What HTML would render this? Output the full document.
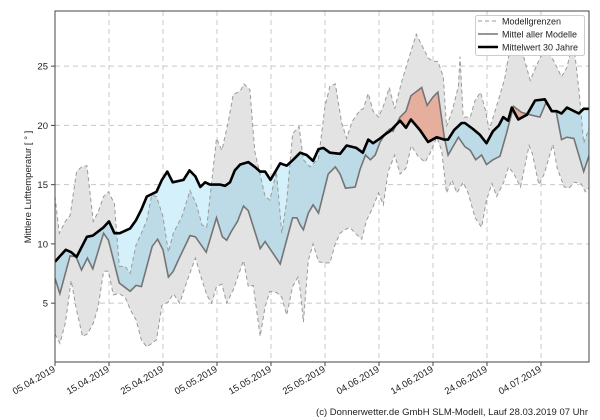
<!DOCTYPE html>
<html><head><meta charset="utf-8"><style>
html,body{margin:0;padding:0;background:#fff;}
svg{display:block;font-family:"Liberation Sans","DejaVu Sans",sans-serif;}
</style></head><body>
<svg id="s" width="600" height="420" viewBox="0 0 600 420" xmlns="http://www.w3.org/2000/svg">
<rect width="600" height="420" fill="#fff"/>
<defs>
<clipPath id="pa"><rect x="55" y="11" width="534" height="351"/></clipPath>
<clipPath id="below"><path id="cb" d=""/></clipPath>
<clipPath id="above"><path id="ca" d=""/></clipPath>
<clipPath id="bandc"><path id="cband" d=""/></clipPath>
</defs>
<g id="grid"></g>
<g clip-path="url(#pa)">
<g clip-path="url(#below)"><path id="fb0" fill="#d4f0fb"/></g>
<path id="band" fill="#e3e3e3" stroke="none"/>
<g clip-path="url(#bandc)"><g clip-path="url(#below)"><path id="fb" fill="#bcdbe6"/></g></g>
<g clip-path="url(#above)"><path id="fr" fill="#e6ae9c"/></g>
<path id="up" fill="none" stroke="#9a9a9a" stroke-width="1" stroke-dasharray="4,3"/>
<path id="lo" fill="none" stroke="#9a9a9a" stroke-width="1" stroke-dasharray="4,3"/>
<path id="mn" fill="none" stroke="#757575" stroke-width="1.6"/>
<path id="bl" fill="none" stroke="#000" stroke-width="2.6" stroke-linejoin="round"/>
</g>
<rect x="55" y="11" width="534" height="351" fill="none" stroke="#444" stroke-width="1"/>
<g id="ticks" font-size="9.5" fill="#222"></g>
<text transform="translate(31,187) rotate(-90)" text-anchor="middle" font-size="9.5" fill="#222">Mittlere Lufttemperatur [ ° ]</text>
<g>
<rect x="475.5" y="15.5" width="109" height="40" fill="#fff" fill-opacity="0.85" stroke="#ccc" rx="2"/>
<line x1="478" y1="21" x2="498" y2="21" stroke="#9a9a9a" stroke-dasharray="4,3"/>
<line x1="478" y1="34" x2="498" y2="34" stroke="#757575" stroke-width="1.6"/>
<line x1="478" y1="47" x2="498" y2="47" stroke="#000" stroke-width="2.6"/>
<text x="502" y="24.5" font-size="9" fill="#222">Modellgrenzen</text>
<text x="502" y="37.5" font-size="9" fill="#222">Mittel aller Modelle</text>
<text x="502" y="50.5" font-size="9" fill="#222">Mittelwert 30 Jahre</text>
</g>
<text x="588" y="415" text-anchor="end" font-size="9.5" fill="#222">(c) Donnerwetter.de GmbH SLM-Modell, Lauf 28.03.2019 07 Uhr</text>
</svg>
<script>
var X=function(d){return 55+d*5.4;},Y=function(t){return 362.4-t*11.85;};
function P(s){var a=s.trim().split(/\s+/).map(Number),r=[];for(var i=0;i<a.length;i+=2)r.push([a[i],a[i+1]]);return r;}
var BL=P("0 8.5 0.8 8.9 2 9.5 3 9.3 4 8.9 5.9 10.6 7 10.7 9 11.4 10 11.9 11 10.9 12 10.9 13.9 11.3 15 12 16 12.9 17 14.0 18.8 14.4 19.8 15.4 20.8 16.1 21.8 15.2 23.8 15.4 24.9 16.2 26 15.7 26.9 14.8 27.8 15.2 28.7 15.0 30.6 15.0 31.5 14.9 32.4 15.2 33.3 16.2 34.3 16.7 35.8 16.9 37 16.5 38 16.1 38.9 16.1 39.9 15.4 41.7 16.8 42.9 16.6 44.1 17.1 45.4 17.7 46.6 17.5 47.8 17.0 48.8 18.0 49.7 18.1 50.9 17.7 52.8 17.6 54 18.3 55.8 18.1 57 17.7 58 18.8 58.9 18.5 60.2 18.9 61.3 19.3 62 19.5 63.9 20.4 65 19.8 65.9 20.5 67.6 19.6 69.1 18.6 70.7 19.0 72.1 18.8 72.8 18.8 73.9 19.6 75.3 20.2 75.9 20.2 77.4 19.7 78.7 19.2 79.9 18.5 81.1 19.5 82.2 20.0 83 20.7 83.9 20.4 84.6 21.5 85.8 20.5 87.4 20.9 88.9 22.1 90.7 22.2 92 21.2 92.9 21.2 93.8 21.0 94.8 21.5 97 21.0 97.9 21.4 99 21.4");
var MN=P("0 7.1 0.9 5.8 2.8 9.0 3.9 8.9 4.9 7.8 6 8.8 7 7.9 9 10.9 9.9 10.3 11.9 6.7 13.9 6.0 15 6.5 16 6.4 18 9.8 19 10.4 20 9.5 21 7.2 21.9 7.7 22.8 8.6 25 10.7 26 10.6 28 9.3 29.9 12.2 31 10.6 31.8 10.3 32.7 11.1 33.8 11.9 34.9 13.2 35.8 12.8 38 9.6 38.9 10.2 41.7 8.3 44 12.2 44.8 12.2 45.4 11.6 46 11.2 46.9 12.6 47.8 13.3 48.8 12.6 50.6 15.9 51.9 16.5 52.8 15.9 53.8 14.7 55.6 14.8 56.5 16.3 57.5 17.5 58.4 17.1 59.3 17.5 60.2 18.6 61.3 19.4 62 19.7 62.6 19.5 63.9 20.7 65 21.2 65.9 22.5 67.9 23.2 68.9 21.7 70 22.4 70.9 22.8 72.1 19.0 72.8 17.5 74.7 19.0 75.9 18.2 76.9 17.9 77.9 17.1 79 17.5 79.9 16.7 81.1 17.1 82.4 17.4 83.6 19.3 84.9 21.6 86.4 21.1 87.9 20.9 89.8 20.7 90.9 21.9 92 21.2 92.8 21.2 93.8 18.8 94.8 19.0 96.1 18.9 97.9 16.1 99 17.6");
var UP=P("0 14.0 0.8 10.9 1.9 11.9 2.8 12.4 4 16.1 4.9 16.5 5.9 16.6 7.1 11.9 8 12.7 9 14.0 9.9 14.4 11 13.4 11.9 8.1 13 8.1 13.9 7.5 15 9.9 16 10.9 17 12.0 17.9 14.1 18.8 14.0 20 12.3 21 9.3 21.9 10.9 23.5 12.3 25 14.5 26.2 13.3 27.2 11.6 28.1 11.4 29.9 18.9 30.9 17.9 32.1 20.3 33 22.6 34.3 22.9 35 23.5 36.1 23.0 37 17.8 38.9 14.0 39.8 13.7 41 16.1 42 10.9 42.9 13.6 44 19.3 45.2 19.9 46 17.1 47.2 16.5 48.8 17.2 50 21.6 50.9 23.3 51.9 23.5 53.1 20.2 54 18.9 55 20.3 56.5 21.3 57.1 21.4 58 22.7 58.9 21.2 59.9 20.7 60.8 21.6 61.9 23.2 62.9 21.4 64.2 23.7 65.4 25.5 66.9 27.7 69.1 25.7 70 25.4 70.9 25.4 71.9 24.1 72.5 19.9 73.6 21.3 74.7 23.3 75 25.8 75.6 20.7 76.9 20.7 77.8 22.1 78.8 22.8 79.7 21.3 80.4 19.6 82.1 22.1 83.3 24.0 84.3 26.6 85.5 28.6 86.6 26.1 88 23.8 89.8 25.7 91.0 26.4 92.3 25.5 93.8 24.1 94.8 24.9 96 27.1 97.1 22.7 97.9 18.5 99 19.9");
var LO=P("0 2.4 0.9 1.6 1.9 3.3 3 6.9 4 4.4 5.1 2.2 6 2.4 7.1 3.3 8 4.7 9 7.7 9.9 7.7 10.8 5.7 11.9 5.8 13 5.5 14 4.4 15 3.6 16 1.9 17 1.3 18.8 1.9 19.8 4.8 21 5.1 21.9 5.8 23.1 5.0 24.4 6.8 26 8.8 26.9 7.4 28.1 5.7 29 5.0 29.9 6.4 30.9 6.6 31.8 5.0 33 6.1 34.9 8.6 35.8 6.4 36.7 6.5 38 2.2 38.9 4.7 39.8 6.0 41 5.9 42 5.5 42.9 4.0 44 6.4 45 7.2 45.4 6.1 46 3.4 46.9 8.6 47.8 10.0 48.8 8.5 50 8.4 50.9 8.4 51.9 10.0 52.8 10.9 53.7 11.2 54.6 11.4 55.6 10.9 56.8 10.4 57.7 12.0 58.8 13.0 59.9 14.3 60.8 13.3 61.7 16.1 62.9 17.5 63.9 15.9 65 16.4 66 18.3 67.2 17.4 68.5 16.9 69.4 17.6 70.7 19.0 71.6 17.9 72.5 14.3 73.5 15.4 74.4 14.3 75.6 15.2 76.5 14.3 77.8 12.2 79 11.4 79.9 13.7 80.9 15.1 81.8 14.0 83.1 15.2 84 16.5 85 15.9 86.2 14.8 87.8 18.3 88.4 17.6 89.6 15.0 90.6 15.9 92.2 18.4 93 16.4 94.3 14.8 95.2 14.7 96.1 15.2 97.4 15.1 98.2 14.4 99 14.8");
function pts(a){return a.map(function(p){return X(p[0]).toFixed(1)+","+Y(p[1]).toFixed(1);});}
function line(a){return "M"+pts(a).join("L");}
function rev(a){return a.slice().reverse();}
var $=function(i){return document.getElementById(i);};
var bandD=line(UP)+"L"+pts(rev(LO)).join("L")+"Z";
$("band").setAttribute("d",bandD);$("cband").setAttribute("d",bandD);
$("up").setAttribute("d",line(UP));$("lo").setAttribute("d",line(LO));
$("mn").setAttribute("d",line(MN));$("bl").setAttribute("d",line(BL));
var poly=line(BL)+"L"+pts(rev(MN)).join("L")+"Z";
$("fb0").setAttribute("d",poly);$("fb").setAttribute("d",poly);$("fr").setAttribute("d",poly);
$("cb").setAttribute("d",line(BL)+"L600,420L0,420Z");
$("ca").setAttribute("d",line(BL)+"L600,0L0,0Z");
var g=$("grid"),t=$("ticks"),h="";
var lab=["05.04.2019","15.04.2019","25.04.2019","05.05.2019","15.05.2019","25.05.2019","04.06.2019","14.06.2019","24.06.2019","04.07.2019"];
for(var i=0;i<10;i++){var x=X(i*10);
 h+='<line x1="'+x+'" y1="11" x2="'+x+'" y2="362" stroke="#c8c8c8" stroke-dasharray="5,4"/>';}
[5,10,15,20,25].forEach(function(v){var y=Y(v);h+='<line x1="55" y1="'+y+'" x2="589" y2="'+y+'" stroke="#c8c8c8" stroke-dasharray="5,4"/>';});
g.innerHTML=h;h="";
for(var i=0;i<10;i++){var x=X(i*10);
 h+='<line x1="'+x+'" y1="362" x2="'+x+'" y2="366" stroke="#444"/>';
 h+='<text transform="translate('+(x+1)+',371) rotate(-30)" text-anchor="end">'+lab[i]+'</text>';}
[5,10,15,20,25].forEach(function(v){var y=Y(v);h+='<line x1="51" y1="'+y+'" x2="55" y2="'+y+'" stroke="#444"/><text x="48" y="'+(y+3.5)+'" text-anchor="end">'+v+'</text>';});
t.innerHTML=h;
</script>
</body></html>
